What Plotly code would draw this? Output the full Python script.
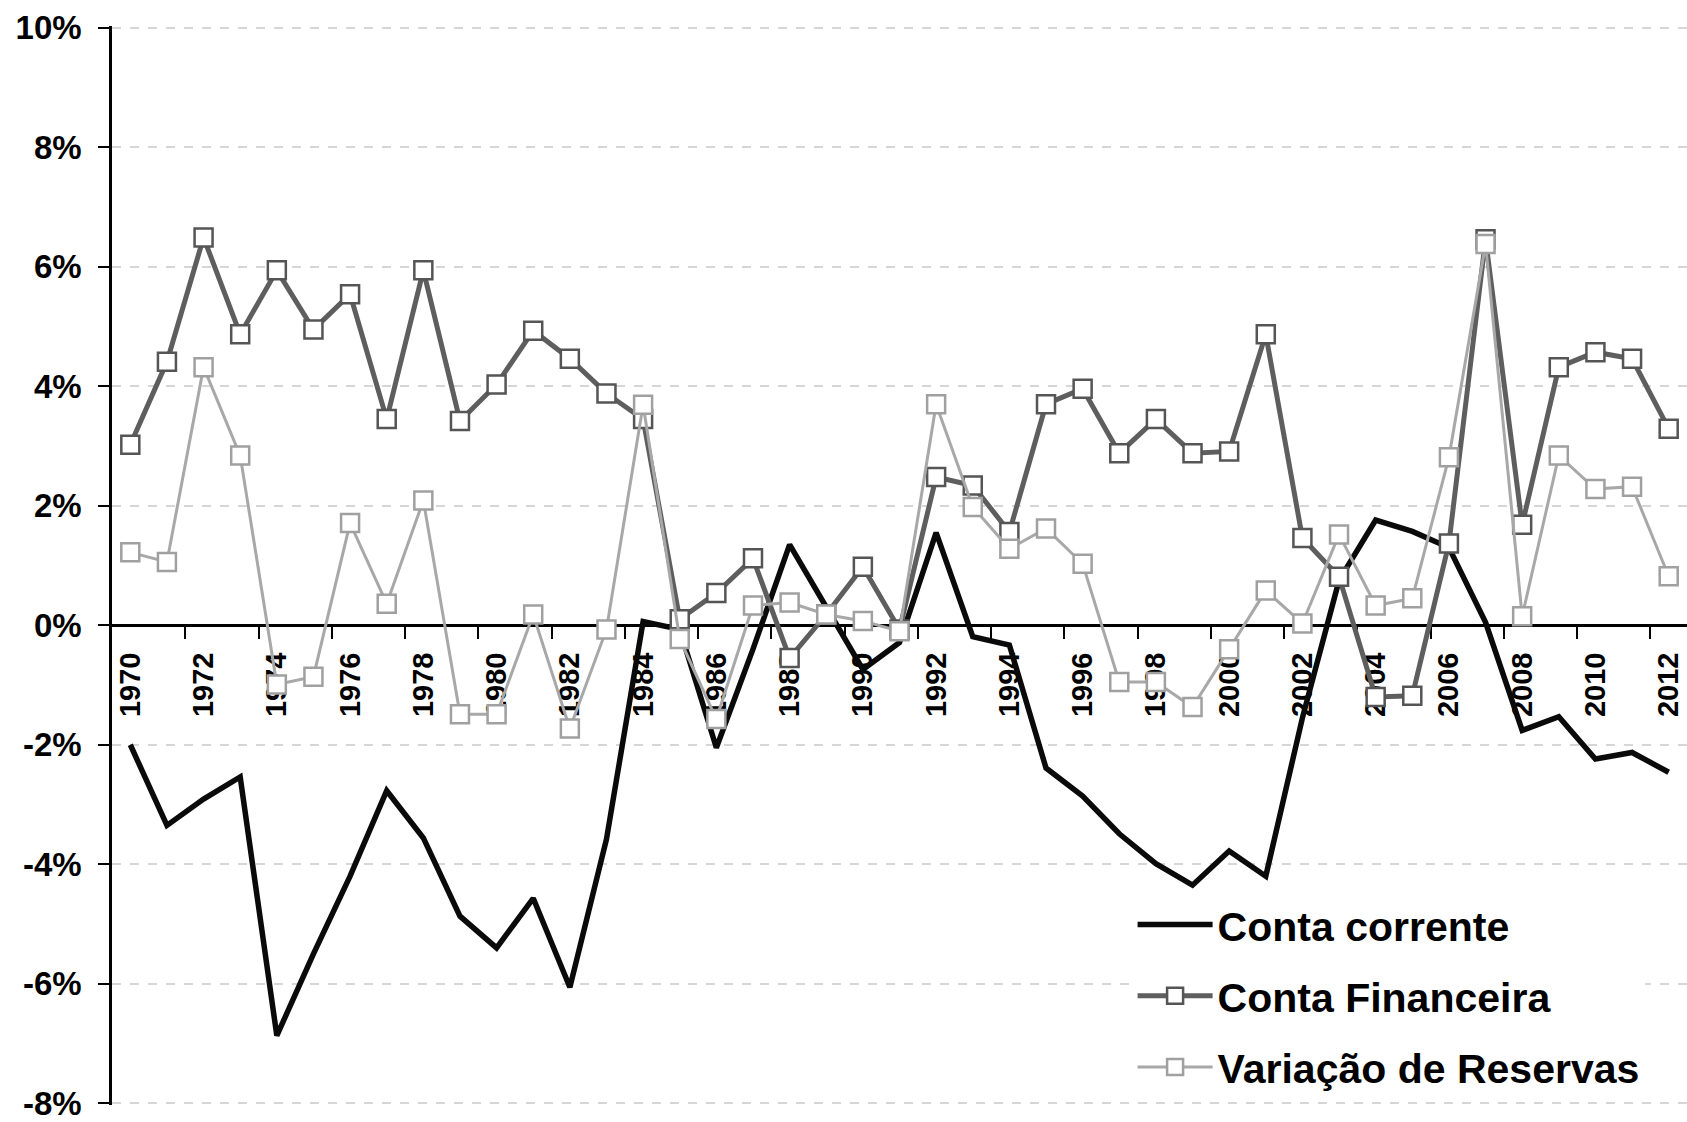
import plotly.graph_objects as go

years = list(range(1970, 2013))

conta_corrente = [-2.0, -3.35, -2.91, -2.54, -6.87, -5.5, -4.2, -2.77, -3.56, -4.87,
                  -5.4, -4.57, -6.06, -3.58, 0.06, -0.07, -2.05, -0.4, 1.35, 0.3,
                  -0.74, -0.29, 1.55, -0.19, -0.33, -2.39, -2.86, -3.49, -3.99, -4.35,
                  -3.78, -4.2, -1.55, 0.75, 1.76, 1.57, 1.3, 0.05, -1.76, -1.53,
                  -2.24, -2.13, -2.46]

conta_financeira = [3.02, 4.41, 6.49, 4.87, 5.94, 4.95, 5.54, 3.45, 5.94, 3.42,
                    4.03, 4.93, 4.46, 3.88, 3.45, 0.1, 0.54, 1.12, -0.55, 0.18,
                    0.98, -0.07, 2.48, 2.34, 1.56, 3.7, 3.96, 2.88, 3.45, 2.88,
                    2.91, 4.87, 1.46, 0.81, -1.2, -1.18, 1.37, 6.46, 1.68, 4.32,
                    4.57, 4.46, 3.29]

variacao_reservas = [1.22, 1.06, 4.32, 2.84, -0.99, -0.86, 1.71, 0.36, 2.09, -1.49,
                     -1.49, 0.18, -1.73, -0.07, 3.69, -0.23, -1.57, 0.33, 0.38, 0.18,
                     0.07, -0.1, 3.7, 1.98, 1.28, 1.62, 1.03, -0.95, -0.95, -1.37,
                     -0.4, 0.58, 0.03, 1.52, 0.33, 0.45, 2.81, 6.38, 0.15, 2.84,
                     2.28, 2.32, 0.82]

y_ticks = [-8, -6, -4, -2, 0, 2, 4, 6, 8, 10]
y_ticktext = ["-8%", "-6%", "-4%", "-2%", "0%", "2%", "4%", "6%", "8%", "10%"]
x_label_years = years[::2]
x_tick_marks = [y + 1.5 for y in years[::2]][:-1]

FONT = "Liberation Sans, Arial, sans-serif"

fig = go.Figure()

fig.add_trace(go.Scatter(
    x=years, y=conta_corrente, name="Conta corrente", mode="lines",
    line=dict(color="#0a0a0a", width=5.5), legendgroup="a"))

fig.add_trace(go.Scatter(
    x=years, y=conta_financeira, name="Conta Financeira", mode="lines+markers",
    line=dict(color="#5e5e5e", width=5),
    marker=dict(symbol="square", size=18, color="white",
                line=dict(color="#555555", width=2.5)),
    legendgroup="b"))

fig.add_trace(go.Scatter(
    x=years, y=variacao_reservas, name="Variação de Reservas", mode="lines+markers",
    line=dict(color="#a8a8a8", width=3),
    marker=dict(symbol="square", size=18, color="white",
                line=dict(color="#a0a0a0", width=2.5)),
    legendgroup="c"))

fig.update_layout(
    width=1687, height=1122,
    margin=dict(l=112, r=0, t=26, b=14),
    paper_bgcolor="white", plot_bgcolor="white",
    font=dict(family=FONT, color="black"),
    showlegend=True,
    legend=dict(
        x=0.648, y=0.198, xanchor="left", yanchor="top",
        bgcolor="white", borderwidth=0,
        font=dict(family=FONT, size=41, color="black", weight="bold"),
        itemwidth=75, tracegroupgap=15, traceorder="grouped",
    ),
    xaxis=dict(
        range=[1969.5, 2012.5], anchor="free", position=8.03 / 18.06,
        tickmode="array", tickvals=x_label_years,
        ticktext=[str(v) for v in x_label_years],
        tickangle=-90, ticks="outside", ticklen=12, tickcolor="rgba(0,0,0,0)",
        ticklabelstandoff=2,
        tickfont=dict(family=FONT, size=29, color="black", weight="bold"),
        showgrid=False, zeroline=False,
        showline=True, linecolor="black", linewidth=2.5,
        minor=dict(tickmode="array", tickvals=x_tick_marks, ticks="outside",
                   ticklen=12, tickwidth=2, tickcolor="black", showgrid=False),
        layer="below traces",
    ),
    yaxis=dict(
        range=[-8.03, 10.03], tickmode="array", tickvals=y_ticks, ticktext=y_ticktext,
        ticks="outside", ticklen=11, tickwidth=2, tickcolor="black",
        ticklabelstandoff=10, ticklabeloverflow="allow",
        tickfont=dict(family=FONT, size=33, color="black", weight="bold"),
        showgrid=True, gridcolor="#d6d6d6", griddash="dash", gridwidth=1.5,
        zeroline=False,
        showline=True, linecolor="black", linewidth=2.5,
    ),
)

fig.write_html("out.html", config={"displayModeBar": False},
               post_script="document.body.style.margin='0px';")
